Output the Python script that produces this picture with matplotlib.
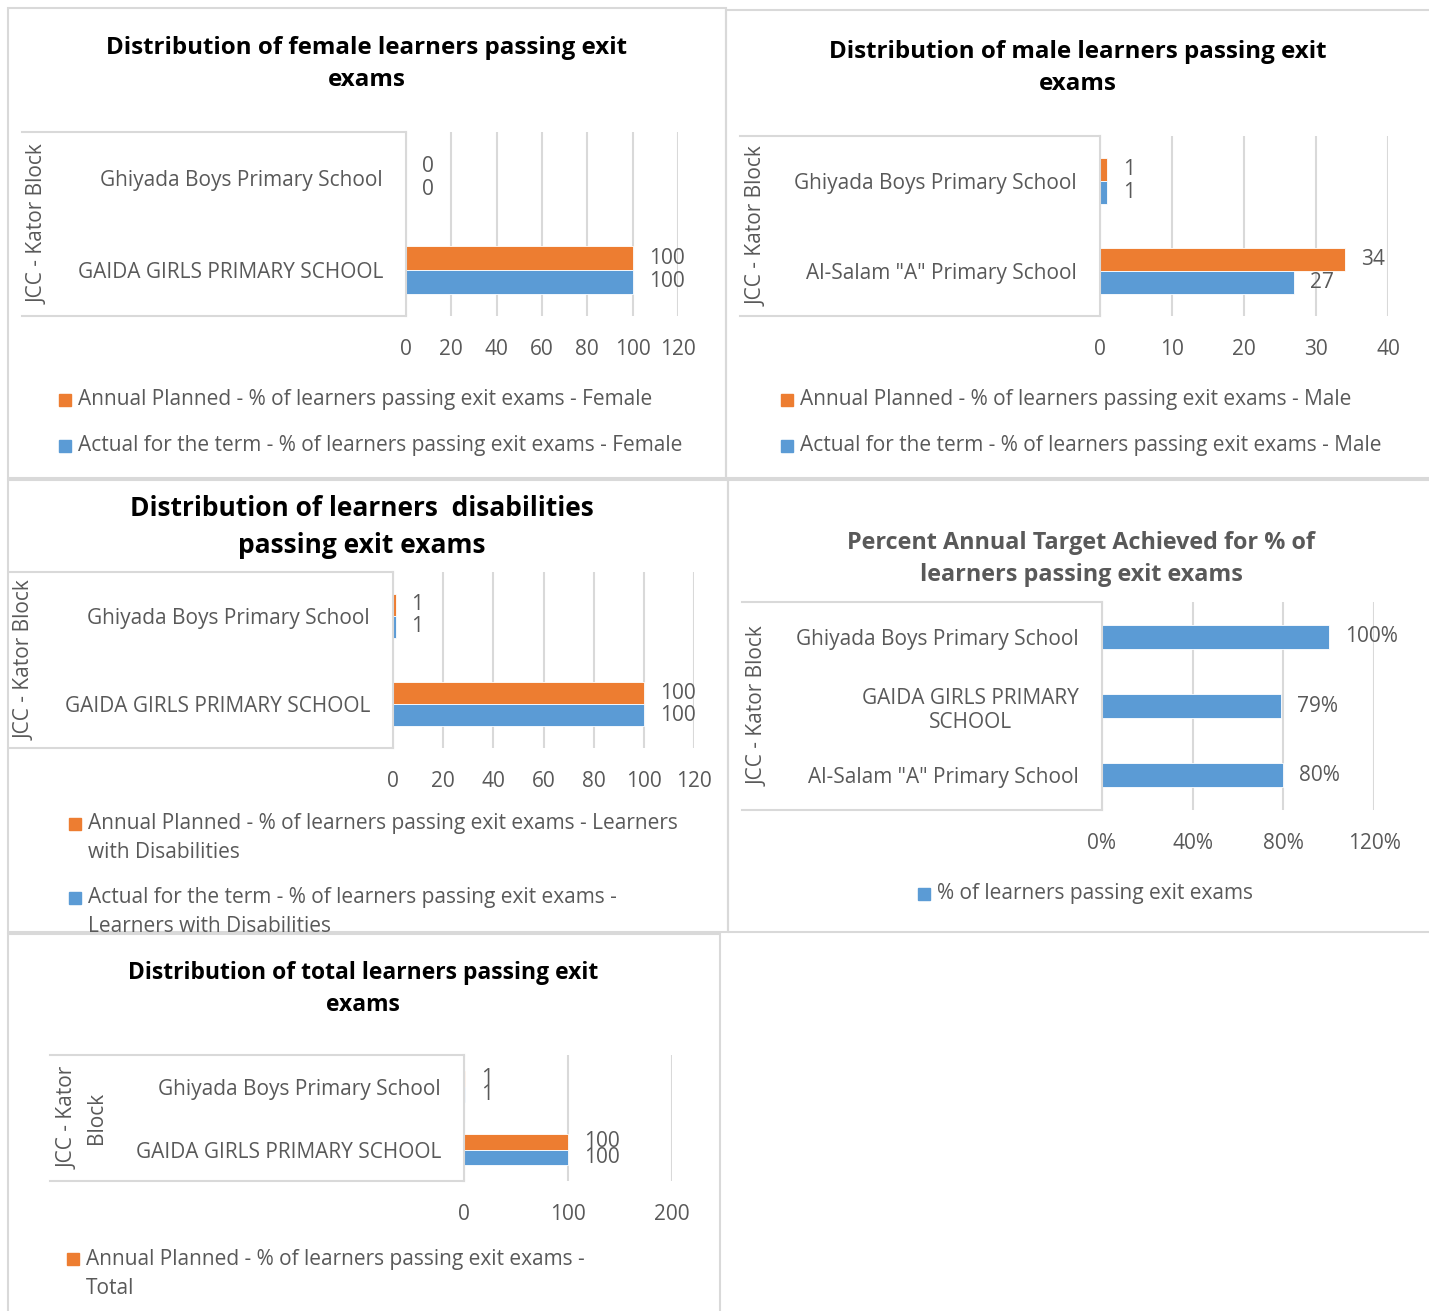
import matplotlib.pyplot as plt
from matplotlib.patches import Rectangle
from matplotlib.lines import Line2D
from matplotlib.transforms import Bbox, TransformedBbox

W, H = 1429, 1311
ORANGE = '#ED7D31'
BLUE = '#5B9BD5'
GRID = '#D9D9D9'
TXT = '#595959'
plt.rcParams['font.family'] = ['Open Sans', 'DejaVu Sans']

# ---- data ----
female_schools = ['GAIDA GIRLS PRIMARY SCHOOL', 'Ghiyada Boys Primary School']
female_planned = [100, 0]
female_actual = [100, 0]

male_schools = ['Al-Salam "A" Primary School', 'Ghiyada Boys Primary School']
male_planned = [34, 1]
male_actual = [27, 1]

dis_schools = ['GAIDA GIRLS PRIMARY SCHOOL', 'Ghiyada Boys Primary School']
dis_planned = [100, 1]
dis_actual = [100, 1]

target_schools = ['Al-Salam "A" Primary School', 'GAIDA GIRLS PRIMARY\nSCHOOL',
                  'Ghiyada Boys Primary School']
target_pct = [80, 79, 100]

total_schools = ['GAIDA GIRLS PRIMARY SCHOOL', 'Ghiyada Boys Primary School']
total_planned = [100, 1]
total_actual = [100, 1]

fig = plt.figure(figsize=(W / 100, H / 100), dpi=100)
FS = 15


def fx(x):
    return x / W


def fy(y):
    return 1 - y / H


def px_axes(x0, y0, x1, y1):
    return fig.add_axes([fx(x0), fy(y1), (x1 - x0) / W, (y1 - y0) / H])


def hline(x0, x1, y):
    fig.add_artist(Line2D([fx(x0), fx(x1)], [fy(y), fy(y)], color=GRID, lw=1.5))


def panel_border(x0, y0, x1, y1):
    fig.add_artist(Rectangle((fx(x0), fy(y1)), (x1 - x0) / W, (y1 - y0) / H,
                             fill=False, edgecolor=GRID, lw=1.5,
                             transform=fig.transFigure))


def legend_entry(x, y, color, lines, fs=FS, clip=None):
    fig.add_artist(Rectangle((fx(x - 6), fy(y + 6)), 12 / W, 12 / H,
                             color=color, transform=fig.transFigure))
    for k, s in enumerate(lines):
        t = fig.text(fx(x + 13), fy(y + 29 * k), s, fontsize=fs, color=TXT,
                     va='center', ha='left')
        if clip is not None:
            t.set_clip_box(TransformedBbox(Bbox([[0, fy(clip)], [1, 1]]),
                                           fig.transFigure))
            t.set_clip_on(True)


def bar_panel(box, box_left, cats, values, colors, xmax, step, bh,
              fs=FS, lab_fs=FS, fmt='{:g}', pct=False):
    x0, y0, x1, y1 = box
    ax = px_axes(x0, y0, x1, y1)
    n = len(cats)
    ns = len(values)
    for k, (vals, c) in enumerate(zip(values, colors)):
        off = (ns - 1) / 2 - k
        ys = [i + off * bh for i in range(n)]
        ax.barh(ys, vals, height=bh, color=c, edgecolor='white', lw=0.6)
        for v, yy in zip(vals, ys):
            ax.annotate(fmt.format(v), (v, yy), xytext=(11.5, 0),
                        textcoords='offset points', va='center', ha='left',
                        fontsize=lab_fs, color=TXT)
    ax.set_ylim(-0.5, n - 0.5)
    ax.set_xlim(0, xmax)
    ticks = list(range(0, xmax + 1, step))
    ax.set_xticks(ticks)
    if pct:
        ax.set_xticklabels([f'{t}%' for t in ticks])
    ax.set_yticks(range(n))
    ax.set_yticklabels(cats, multialignment='center')
    ax.tick_params(axis='both', length=0, labelsize=fs, labelcolor=TXT)
    ax.tick_params(axis='y', pad=16.5)
    ax.tick_params(axis='x', pad=16.5)
    ax.grid(axis='x', color=GRID, lw=1.5)
    ax.set_axisbelow(True)
    for s in ['top', 'right', 'bottom']:
        ax.spines[s].set_visible(False)
    ax.spines['left'].set_color(GRID)
    ax.spines['left'].set_linewidth(1.5)
    hline(box_left, x0, y0)
    hline(box_left, x0, y1)
    return ax


def title(x, y, s, fs, color='black'):
    fig.text(fx(x), fy(y), s, ha='center', va='center', fontsize=fs,
             fontweight='bold', color=color, linespacing=1.48)


# panel borders
panel_border(8, 8, 726, 478)
panel_border(726, 10, 1440, 478)
panel_border(8, 480, 728, 932)
panel_border(728, 480, 1440, 932)
panel_border(8, 934, 720, 1320)

# ---- panel 1: female ----
title(367, 64, 'Distribution of female learners passing exit\nexams', 17.4)
bar_panel((406, 132, 678, 316), 22, female_schools,
          [female_planned, female_actual], [ORANGE, BLUE], 120, 20, 0.26)
fig.text(fx(38), fy(224), 'JCC - Kator Block', rotation=90, ha='center',
         va='center', fontsize=FS, color=TXT)
legend_entry(65, 400, ORANGE,
             ['Annual Planned - % of learners passing exit exams - Female'])
legend_entry(65, 446, BLUE,
             ['Actual for the term - % of learners passing exit exams - Female'])

# ---- panel 2: male ----
title(1078, 68, 'Distribution of male learners passing exit\nexams', 17.4)
bar_panel((1100, 136, 1388, 316), 740, male_schools,
          [male_planned, male_actual], [ORANGE, BLUE], 40, 10, 0.26)
fig.text(fx(757), fy(226), 'JCC - Kator Block', rotation=90, ha='center',
         va='center', fontsize=FS, color=TXT)
legend_entry(787, 400, ORANGE,
             ['Annual Planned - % of learners passing exit exams - Male'])
legend_entry(787, 446, BLUE,
             ['Actual for the term - % of learners passing exit exams - Male'])

# ---- panel 3: disabilities ----
title(362, 527, 'Distribution of learners  disabilities\npassing exit exams', 19)
bar_panel((393, 572, 694, 748), 10, dis_schools,
          [dis_planned, dis_actual], [ORANGE, BLUE], 120, 20, 0.25)
fig.text(fx(25), fy(660), 'JCC - Kator Block', rotation=90, ha='center',
         va='center', fontsize=FS, color=TXT)
legend_entry(75, 824, ORANGE,
             ['Annual Planned - % of learners passing exit exams - Learners',
              'with Disabilities'], clip=932)
legend_entry(75, 898, BLUE,
             ['Actual for the term - % of learners passing exit exams -',
              'Learners with Disabilities'], clip=932)

# ---- panel 4: percent target achieved ----
title(1081, 559, 'Percent Annual Target Achieved for % of\nlearners passing exit exams',
      16.8, color=TXT)
bar_panel((1102, 602, 1374, 810), 742, target_schools,
          [target_pct], [BLUE], 120, 40, 0.35, fmt='{:g}%', pct=True)
fig.text(fx(758), fy(706), 'JCC - Kator Block', rotation=90, ha='center',
         va='center', fontsize=FS, color=TXT)
legend_entry(924, 894, BLUE, ['% of learners passing exit exams'])

# ---- panel 5: total ----
title(363, 989, 'Distribution of total learners passing exit\nexams', 16.5)
bar_panel((464, 1055, 672, 1181), 50, total_schools,
          [total_planned, total_actual], [ORANGE, BLUE], 200, 100, 0.25)
fig.text(fx(82), fy(1118), 'JCC - Kator\nBlock', rotation=90, ha='center',
         va='center', fontsize=FS, color=TXT, linespacing=1.45)
legend_entry(73, 1259, ORANGE,
             ['Annual Planned - % of learners passing exit exams -', 'Total'])

fig.savefig('out.png', dpi=100)
